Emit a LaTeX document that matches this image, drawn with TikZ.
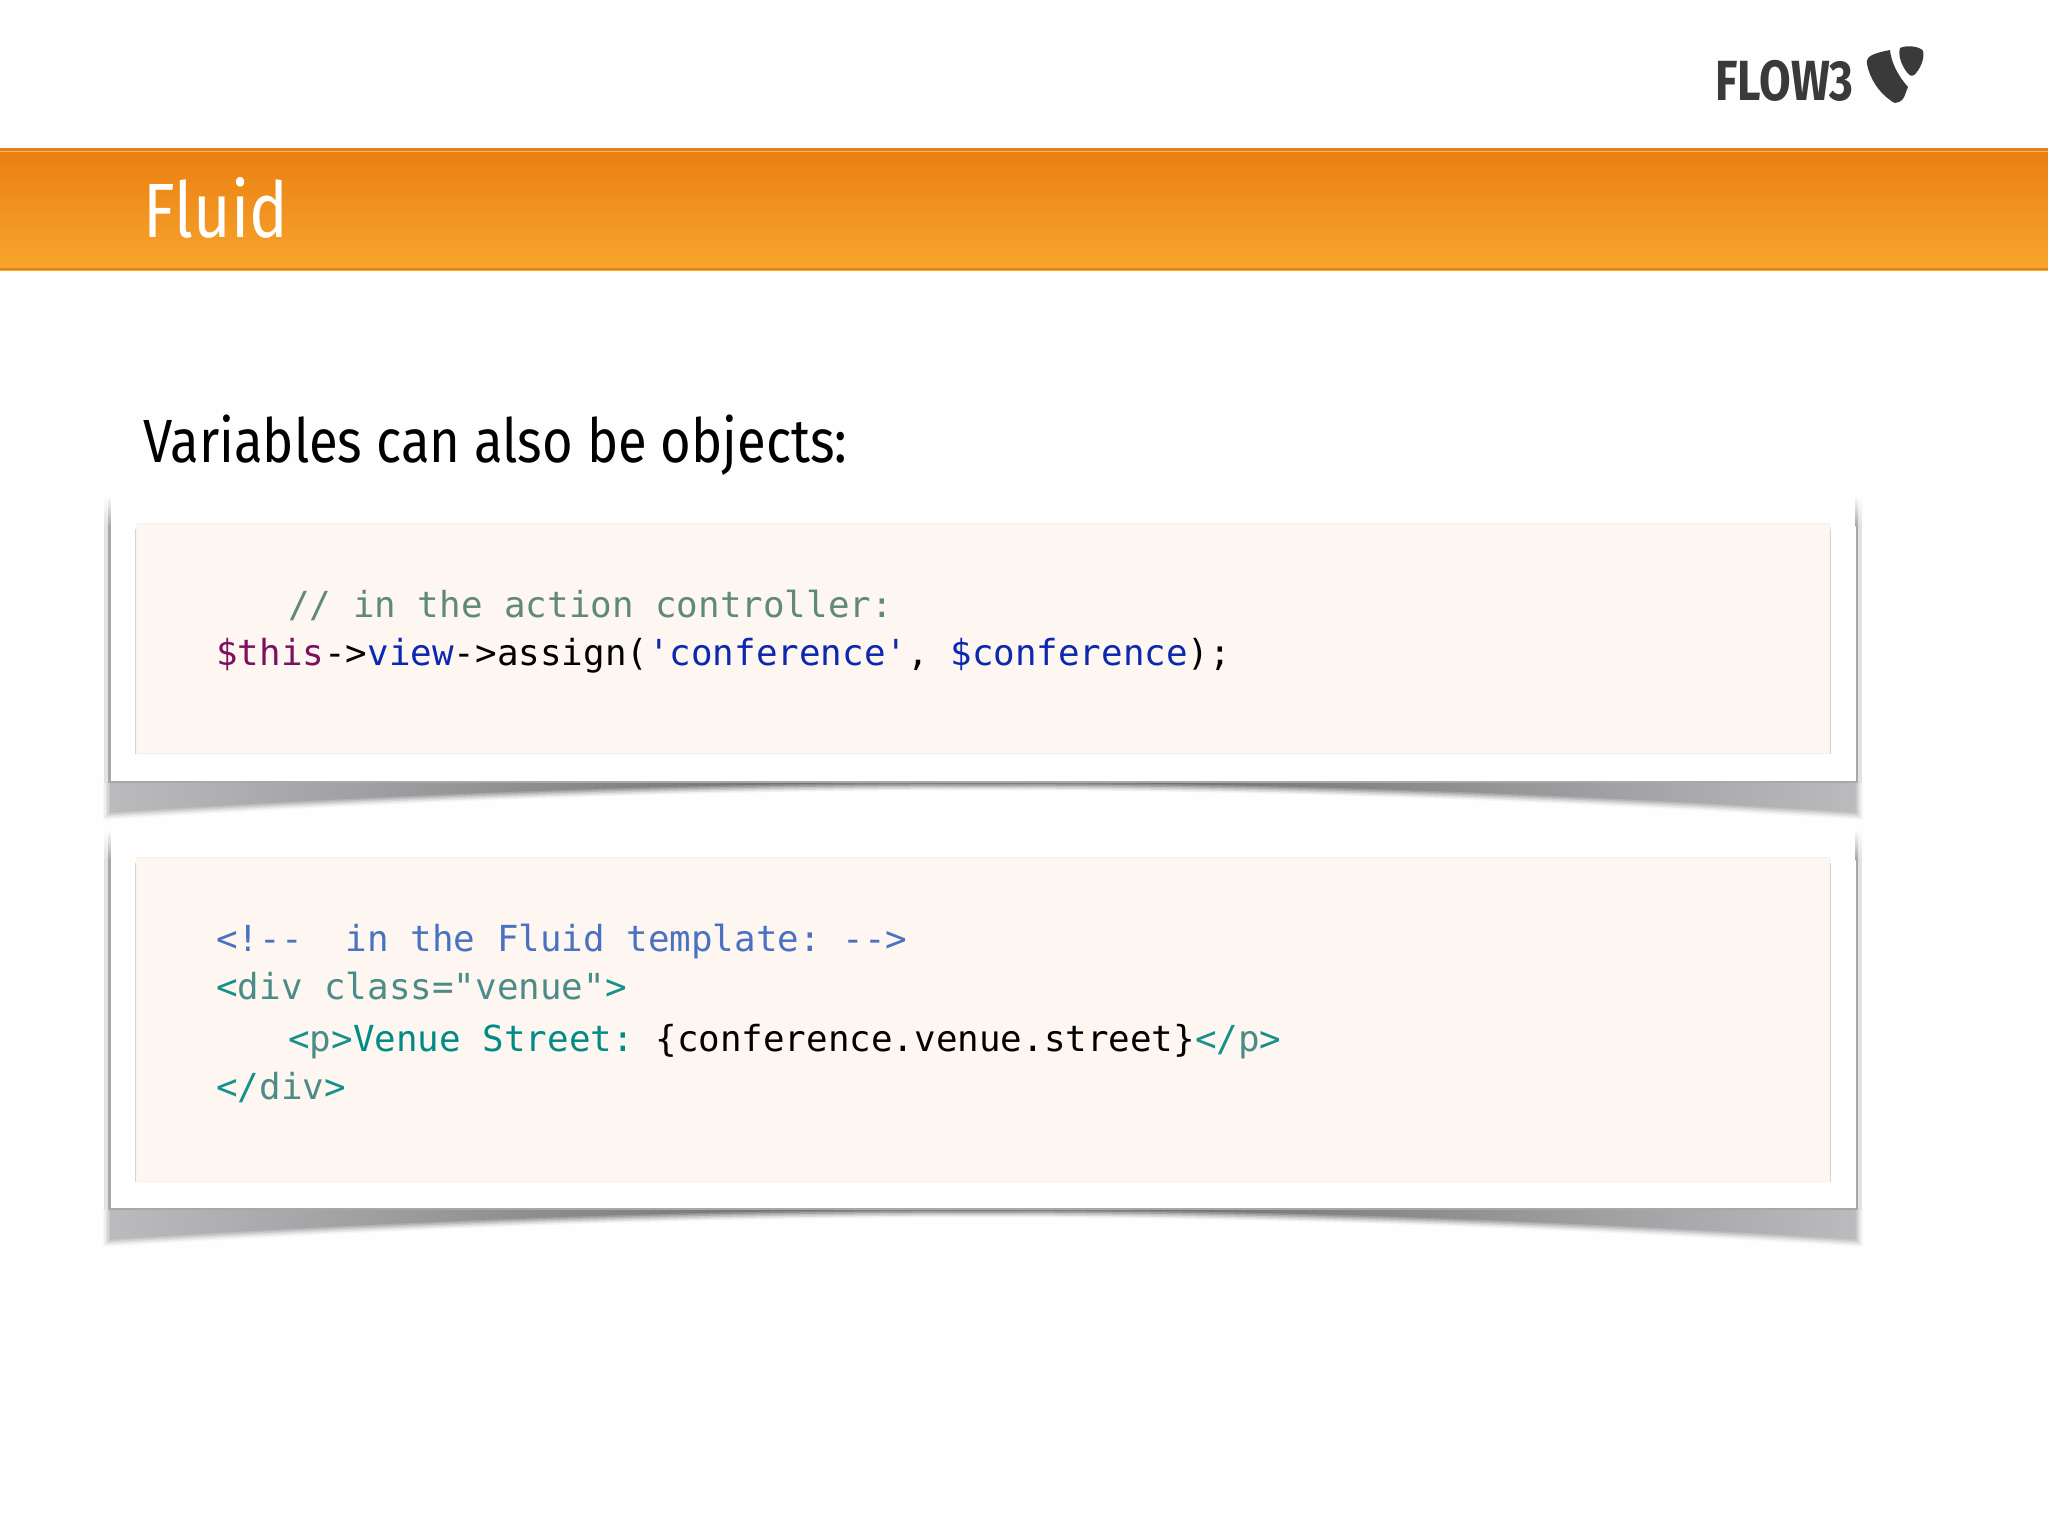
\documentclass[tikz,border=0pt]{standalone}
\usepackage{fontspec}
\setmainfont[FakeStretch=0.84]{Fira Sans}
\newfontfamily\leadfont[FakeStretch=0.862]{Fira Sans}
\newfontfamily\logofont[FakeStretch=0.81]{Fira Sans}
\setmonofont{DejaVu Sans Mono}
\usetikzlibrary{calc}
\definecolor{bandtop}{HTML}{E97F11}
\definecolor{bandbottom}{HTML}{F8A52D}
\definecolor{bandline}{HTML}{E48314}
\definecolor{bandlight}{HTML}{F6B564}
\definecolor{pagefill}{HTML}{FEFEFE}
\definecolor{panelfill}{HTML}{FDF6F1}
\definecolor{paneledge}{HTML}{D9D4CC}
\definecolor{cardedge}{HTML}{A8A8AA}
\definecolor{cardglow}{HTML}{E2E2E4}
\definecolor{shadowend}{HTML}{BBBABC}
\definecolor{shadowmid}{HTML}{5E5E61}
\definecolor{logogray}{HTML}{3A3A3A}
\definecolor{phpcomment}{HTML}{5F8B73}
\definecolor{phpvar}{HTML}{7F0F5F}
\definecolor{phpname}{HTML}{0A28B0}
\definecolor{htmlcomment}{HTML}{4A72C0}
\definecolor{htmlbracket}{HTML}{16918A}
\definecolor{htmlname}{HTML}{4C8C88}
\definecolor{htmltext}{HTML}{008B85}
\tikzstyle{card} = [fill=white, inner sep=0pt, minimum width=873pt]
\tikzstyle{panel} = [fill=panelfill, draw=panelfill!85!paneledge, line width=0.5pt, rounded corners=1pt, inner sep=0pt, minimum width=847pt]
\tikzstyle{panelside} = [draw=paneledge, line width=0.7pt]
\tikzstyle{code} = [anchor=base west, inner sep=0pt, font=\ttfamily\fontsize{17.93}{20}\selectfont]
\tikzstyle{heading} = [anchor=base west, inner sep=0pt]
\newcommand{\tagb}[1]{\textcolor{htmlbracket}{#1}}
\newcommand{\tagn}[1]{\textcolor{htmlname}{#1}}
% curled shadow under a card, soft edge from a few layers
\newcommand{\cardshadow}[1]{
    \foreach \blur/\strength in {7/10,5.5/25,4/42,2.5/62,1/82,-0.5/100} {
        \shade[left color=shadowend!\strength, right color=shadowend!\strength, middle color=shadowmid!\strength]
            (110-\blur,#1) -- (1856+\blur,#1) -- (1856+\blur,#1+31+\blur)
            .. controls (1566,#1+12+\blur) and (1266,#1+1+\blur) .. (983,#1+1+\blur)
            .. controls (700,#1+1+\blur) and (400,#1+12+\blur) .. (110-\blur,#1+31+\blur) -- cycle;
    }
}
% grey side lines of a card, they fade out at the top
\newcommand{\cardsides}[2]{
    \shade[top color=pagefill, bottom color=cardglow] (104,#1) rectangle (108,#1+30);
    \fill[cardglow] (104,#1+30) rectangle (108,#2);
    \shade[top color=pagefill, bottom color=cardedge] (108,#1) rectangle (110.5,#1+30);
    \fill[cardedge] (108,#1+30) rectangle (110.5,#2);
    \shade[top color=pagefill, bottom color=cardglow] (1858,#1) rectangle (1862,#1+30);
    \fill[cardglow] (1858,#1+30) rectangle (1862,#2);
    \shade[top color=pagefill, bottom color=cardedge] (1855.5,#1) rectangle (1858,#1+30);
    \fill[cardedge] (1855.5,#1+30) rectangle (1858,#2);
}
\begin{document}
\begin{tikzpicture}[x=0.5pt, y=-0.5pt]
    \useasboundingbox (0,0) rectangle (2048,1536);
    \fill[pagefill] (0,0) rectangle (2048,1536);

    % band
    \node[minimum width=1024pt, minimum height=61pt, inner sep=0pt, top color=bandtop, bottom color=bandbottom] (band) at (1024,209) {};
    \draw[bandline, line width=1.2pt] ($(band.north west)+(0,1.2)$) -- ($(band.north east)+(0,1.2)$);
    \draw[bandlight, line width=0.8pt] ($(band.north west)+(0,4)$) -- ($(band.north east)+(0,4)$);
    \draw[bandline, line width=1pt] ($(band.south west)+(0,-1)$) -- ($(band.south east)+(0,-1)$);
    \node[heading, text=white, font=\fontsize{38.5}{42}\selectfont] (title) at (143,237) {Fluid};

    % logo
    \node[heading, text=logogray, font=\logofont\bfseries\fontsize{28.3}{32}\selectfont] (flow) at (1715,101) {FLOW3};
    \fill[logogray] (1890,50) .. controls (1870,54) and (1866,57) .. (1867,64) .. controls (1870,80) and (1880,93) .. (1890,100)
        .. controls (1894,104) and (1897,103) .. (1899,102) .. controls (1905,98) and (1903,99) .. (1908,87)
        .. controls (1898,76) and (1891,62) .. (1890,50) -- cycle;
    \fill[logogray] (1900,48) .. controls (1906,45) and (1920,46) .. (1923,51) .. controls (1925,58) and (1920,70) .. (1914,75)
        .. controls (1911,77) and (1909,75) .. (1906,71) .. controls (1901,64) and (1898,55) .. (1900,48) -- cycle;

    \node[heading, text=black, font=\leadfont\fontsize{30.5}{34}\selectfont] (lead) at (143,462) {Variables can also be objects:};

    % first box
    \cardshadow{782}
    \node[card, minimum height=143pt] (cardphp) at (983,639.5) {};
    \cardsides{496}{783}
    \fill[cardedge] (110,781) rectangle (1856,783);
    \node[panel, minimum height=115pt] (panelphp) at (983,638.5) {};
    \draw[panelside] ($(panelphp.north west)+(0,6)$) -- (panelphp.south west);
    \draw[panelside] ($(panelphp.north east)+(0,6)$) -- (panelphp.south east);
    \node[code, text=phpcomment] (phpa) at (288,617.5) {// in the action controller:};
    \node[code] (phpb) at (216,665.5) {\textcolor{phpvar}{\$this}->\textcolor{phpname}{view}->assign(\textcolor{phpname}{'conference'}, \textcolor{phpname}{\$conference});};

    % second box
    \cardshadow{1209}
    \node[card, minimum height=190pt] (cardhtml) at (983,1020) {};
    \cardsides{830}{1210}
    \fill[cardedge] (110,1208) rectangle (1856,1210);
    \node[panel, minimum height=162pt] (panelhtml) at (983,1019.5) {};
    \draw[panelside] ($(panelhtml.north west)+(0,6)$) -- (panelhtml.south west);
    \draw[panelside] ($(panelhtml.north east)+(0,6)$) -- (panelhtml.south east);
    \node[code, text=htmlcomment] (htmla) at (216,951.5) {<!--~~in the Fluid template: -->};
    \node[code, text=htmlname] (htmlb) at (216,999.5) {\tagb{<}div class="venue"\tagb{>}};
    \node[code, text=htmltext] (htmlc) at (288,1051.5) {\tagb{<}\tagn{p}\tagb{>}Venue Street: \textcolor{black}{\{conference.venue.street\}}\tagb{</}\tagn{p}\tagb{>}};
    \node[code, text=htmlname] (htmld) at (216,1099.5) {\tagb{</}div\tagb{>}};
\end{tikzpicture}
\end{document}
